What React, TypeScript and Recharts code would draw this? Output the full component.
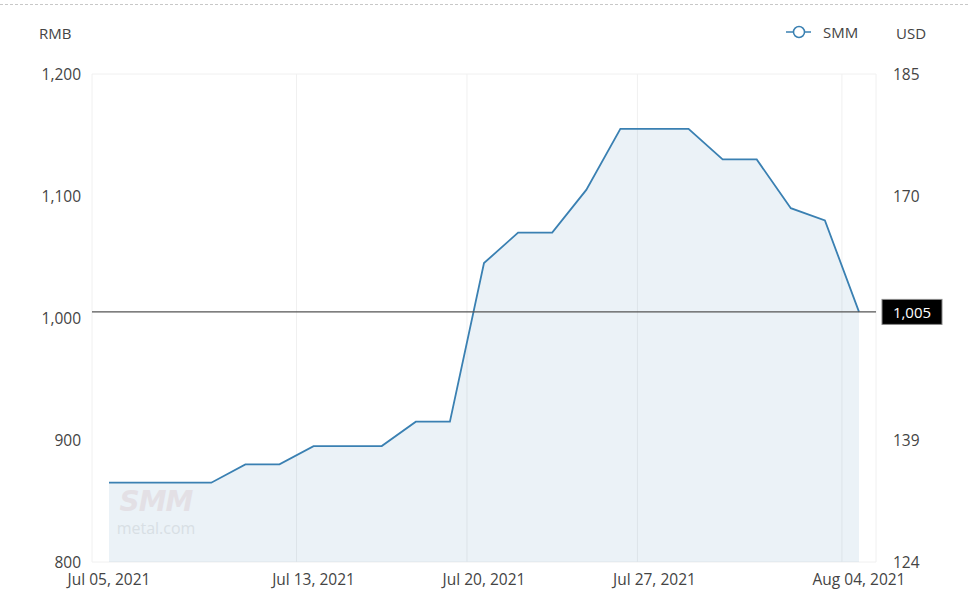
import React from "react";
import {
  AreaChart,
  Area,
  XAxis,
  YAxis,
  CartesianGrid,
  ReferenceLine,
} from "recharts";

const dates = [
  "Jul 05, 2021", "Jul 06, 2021", "Jul 07, 2021", "Jul 08, 2021", "Jul 09, 2021",
  "Jul 12, 2021", "Jul 13, 2021", "Jul 14, 2021", "Jul 15, 2021", "Jul 16, 2021",
  "Jul 19, 2021", "Jul 20, 2021", "Jul 21, 2021", "Jul 22, 2021", "Jul 23, 2021",
  "Jul 26, 2021", "Jul 27, 2021", "Jul 28, 2021", "Jul 29, 2021", "Jul 30, 2021",
  "Aug 02, 2021", "Aug 03, 2021", "Aug 04, 2021",
];
const smmValues = [
  865, 865, 865, 865, 880,
  880, 895, 895, 895, 915,
  915, 1045, 1070, 1070, 1105,
  1155, 1155, 1155, 1130, 1130,
  1090, 1080, 1005,
];
const xTickLabels = ["Jul 05, 2021", "Jul 13, 2021", "Jul 20, 2021", "Jul 27, 2021", "Aug 04, 2021"];
const leftTicks = [800, 900, 1000, 1100, 1200];
const rightTickLabels = ["124", "139", "", "170", "185"];
const latestValue = 1005;

const data = dates.map((d, i) => ({ date: d, smm: smmValues[i] }));

const FONT = "'Open Sans', 'Noto Sans', sans-serif";
const LINE = "#3a80b2";
const TEXT = "#444";
const FS = 15.5;

const fmt = (v: number) => v.toLocaleString("en-US");

const RefLabel = (props: any) => {
  const vb = props.viewBox || {};
  const x = vb.x + vb.width + 6;
  const y = vb.y;
  return (
    <g>
      <rect x={x} y={y - 12.5} width={60} height={25} fill="#000" stroke="#888" strokeWidth={1} />
      <text x={x + 30} y={y} fill="#fff" fontSize={15} fontFamily={FONT} textAnchor="middle" dominantBaseline="central">
        {fmt(latestValue)}
      </text>
    </g>
  );
};

export default function App() {
  const n = dates.length;
  const boundaryIdx = [...xTickLabels.map((t) => dates.indexOf(t)), n];
  return (
    <div style={{ position: "absolute", left: 0, top: 0, width: 968, height: 595, background: "#fff", fontFamily: FONT }}>
      <div style={{ position: "absolute", left: 0, top: 4, width: 968, borderTop: "1px dashed #c8c8c8" }} />
      <div style={{ position: "absolute", left: 39, top: 23, fontSize: 15, lineHeight: "20px", color: TEXT }}>RMB</div>
      <div style={{ position: "absolute", left: 896, top: 23, fontSize: 15, lineHeight: "20px", color: TEXT }}>USD</div>
      <div style={{ position: "absolute", left: 786, top: 22, fontSize: 15, lineHeight: "20px", color: TEXT, display: "flex", alignItems: "center" }}>
        <svg width={26} height={20} style={{ marginRight: 11 }}>
          <line x1={0} y1={10} x2={25} y2={10} stroke={LINE} strokeWidth={1.5} />
          <circle cx={13} cy={10} r={5.5} fill="#fff" stroke={LINE} strokeWidth={1.5} />
        </svg>
        <span>SMM</span>
      </div>
      <div style={{ position: "absolute", left: 106, top: 486, width: 100, textAlign: "center", pointerEvents: "none", fontSize: 28, lineHeight: "32px", fontWeight: 900, fontStyle: "italic", color: "#d9a0a0", opacity: 0.2, letterSpacing: -1, fontFamily: "'DejaVu Sans', sans-serif" }}>SMM</div>
      <div style={{ position: "absolute", left: 106, top: 519, width: 100, textAlign: "center", pointerEvents: "none", fontSize: 16, lineHeight: "18px", color: "#bbb", opacity: 0.3 }}>metal.com</div>
      <AreaChart
        width={968}
        height={595}
        data={data}
        margin={{ top: 74, right: 0, bottom: 0, left: 0 }}
        style={{ position: "absolute", left: 0, top: 0 }}
      >
        <CartesianGrid
          stroke="#f0f0f0"
          strokeWidth={1}
          verticalCoordinatesGenerator={({ offset }: any) =>
            boundaryIdx.map((i) => offset.left + (offset.width * i) / n)
          }
        />
        <XAxis
          dataKey="date"
          type="category"
          ticks={xTickLabels}
          interval={0}
          padding={{ left: 17, right: 17 }}
          height={33}
          axisLine={false}
          tickLine={false}
          tickMargin={6}
          tick={{ fill: TEXT, fontSize: FS, fontFamily: FONT }}
        />
        <YAxis
          yAxisId="left"
          orientation="left"
          width={92}
          domain={[800, 1200]}
          allowDataOverflow
          ticks={leftTicks}
          tickFormatter={fmt}
          axisLine={false}
          tickLine={false}
          tickMargin={5}
          tick={{ fill: TEXT, fontSize: FS, fontFamily: FONT }}
        />
        <YAxis
          yAxisId="right"
          orientation="right"
          width={92}
          type="number"
          domain={[800, 1200]}
          allowDataOverflow
          ticks={leftTicks}
          interval={0}
          tickFormatter={(v: number) => rightTickLabels[leftTicks.indexOf(v)] ?? ""}
          axisLine={false}
          tickLine={false}
          tickMargin={11}
          tick={{ fill: TEXT, fontSize: FS, fontFamily: FONT }}
        />
        <Area
          yAxisId="right"
          type="linear"
          dataKey="smm"
          stroke="none"
          fill="none"
          dot={false}
          activeDot={false}
          legendType="none"
          isAnimationActive={false}
        />
        <Area
          yAxisId="left"
          type="linear"
          dataKey="smm"
          stroke={LINE}
          strokeWidth={1.8}
          fill={LINE}
          fillOpacity={0.1}
          dot={false}
          activeDot={false}
          isAnimationActive={false}
        />
        <ReferenceLine
          yAxisId="left"
          y={latestValue}
          stroke="#555"
          strokeWidth={1.3}
          label={<RefLabel />}
        />
      </AreaChart>
    </div>
  );
}
